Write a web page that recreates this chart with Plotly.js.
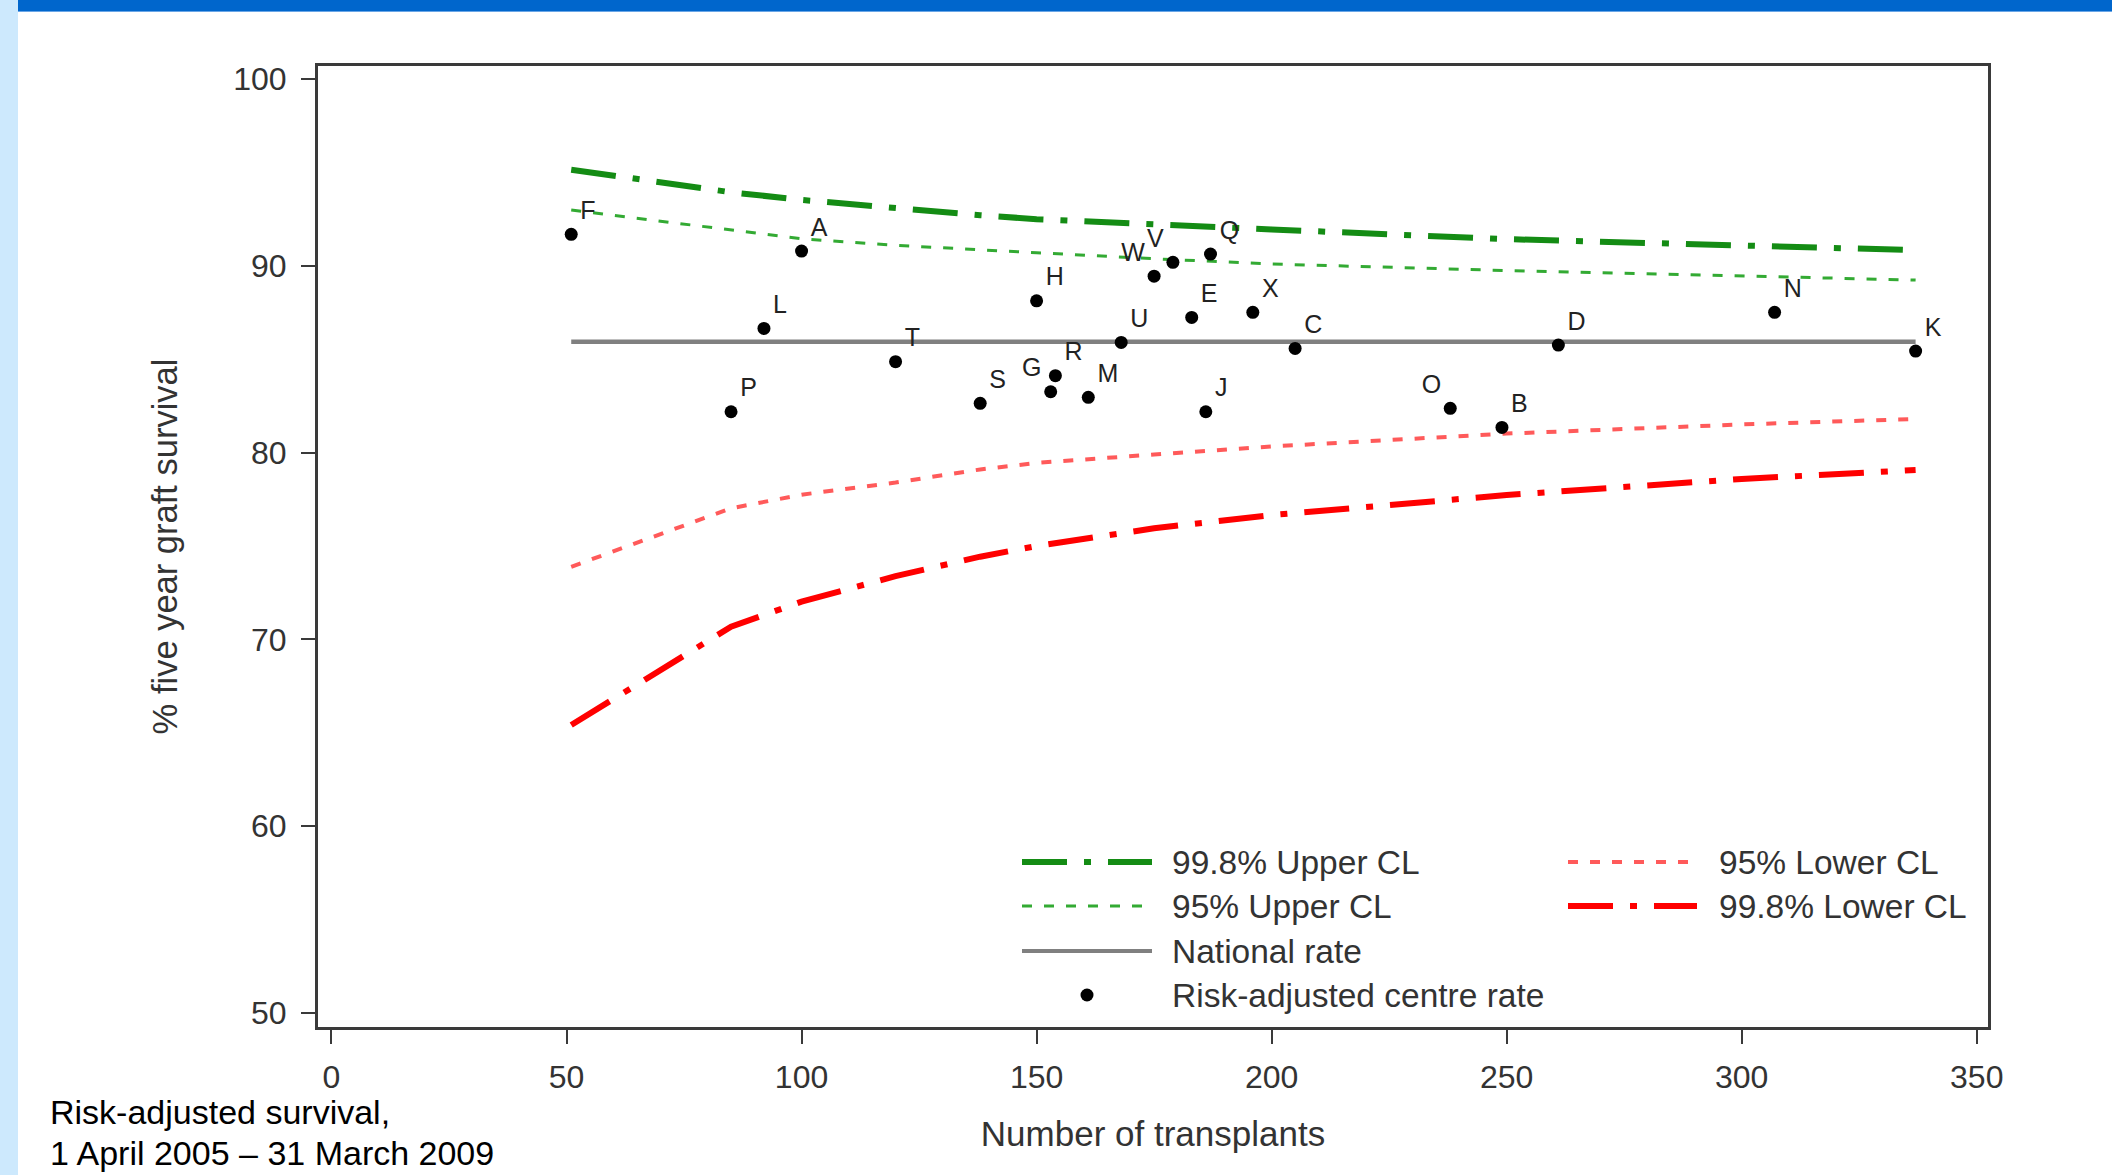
<!DOCTYPE html>
<html><head><meta charset="utf-8">
<script src="https://cdn.plot.ly/plotly-3.0.1.min.js"></script>
<style>
html,body{margin:0;padding:0;background:#fff;overflow:hidden}
#chart{width:2112px;height:1175px;position:absolute;left:0;top:0}
#bar{position:absolute;left:0;top:0;width:2112px;height:11px;background:#0066cc;border-bottom:1px solid #6aa6e6}
#strip{position:absolute;left:0;top:0;width:18px;height:1175px;background:#cde9fd}
</style></head><body>
<div id="chart"></div><div id="bar"></div><div id="strip"></div>
<script>
// Centre data
const centres    = ['F','A','L','P','T','S','H','G','R','M','U','W','V','E','Q','J','X','C','O','B','D','N','K'];
const centreN    = [51, 100, 92, 85, 120, 138, 150, 153, 154, 161, 168, 175, 179, 183, 187, 186, 196, 205, 238, 249, 261, 307, 337];
const centreRate = [91.69, 90.79, 86.65, 82.19, 84.87, 82.64, 88.13, 83.26, 84.12, 82.96, 85.90, 89.45, 90.19, 87.24, 90.63, 82.19, 87.51, 85.58, 82.37, 81.35, 85.76, 87.51, 85.44];
const leftLabelled = ['G','W','V','O'];

// Funnel limits
const funnelN   = [51, 85, 100, 120, 138, 150, 175, 200, 250, 300, 337];
const upper998  = [95.15, 93.94, 93.53, 93.08, 92.71, 92.50, 92.19, 91.95, 91.43, 91.06, 90.84];
const upper95   = [92.99, 91.92, 91.45, 91.10, 90.85, 90.70, 90.38, 90.10, 89.75, 89.44, 89.24];
const lower95   = [73.89, 77.02, 77.75, 78.40, 79.10, 79.45, 79.90, 80.33, 81.02, 81.51, 81.80];
const lower998  = [65.42, 70.68, 72.02, 73.39, 74.43, 75.00, 75.95, 76.66, 77.73, 78.59, 79.07];
const nationalRate = 85.94;

const xTicks = [0, 50, 100, 150, 200, 250, 300, 350];
const yTicks = [50, 60, 70, 80, 90, 100];

const seriesNames = ['99.8% Upper CL', '95% Upper CL', 'National rate', 'Risk-adjusted centre rate', '95% Lower CL', '99.8% Lower CL'];

const FONT = '"Liberation Sans", Arial, sans-serif';
const C998U = '#148c14', C95U = '#33aa33', CNAT = '#808080', C95L = '#ff5a5a', C998L = '#ff0000';
const DASH_DD = '45px,17px,7px,17px', DASH_SHORT = '10px,12px';

const nMin = Math.min(...centreN), nMax = Math.max(...centreN);

const traces = [
  {x: funnelN, y: upper998, mode:'lines', name: seriesNames[0], line:{color:C998U, width:6, dash:DASH_DD}},
  {x: funnelN, y: upper95, mode:'lines', name: seriesNames[1], line:{color:C95U, width:3, dash:DASH_SHORT}},
  {x: [nMin, nMax], y: [nationalRate, nationalRate], mode:'lines', name: seriesNames[2], line:{color:CNAT, width:4.5}},
  {x: funnelN, y: lower95, mode:'lines', name: seriesNames[4], line:{color:C95L, width:4, dash:DASH_SHORT}},
  {x: funnelN, y: lower998, mode:'lines', name: seriesNames[5], line:{color:C998L, width:6, dash:DASH_DD}},
  {x: centreN, y: centreRate, mode:'markers+text', name: seriesNames[3], text: centres,
   textposition: centres.map(c => leftLabelled.includes(c) ? 'top left' : 'top right'),
   textfont:{family:FONT, size:25, color:'#222'},
   marker:{color:'#000', size:13}}
];

// custom legend (pixel -> paper helpers)
const L=318, R=1988, T=66, B=1027;
const px = v => (v - L) / (R - L);
const py = v => (B - v) / (B - T);
const legendRows = [
  {col:0, row:0, name:seriesNames[0], color:C998U, width:6, dash:DASH_DD},
  {col:0, row:1, name:seriesNames[1], color:C95U, width:3, dash:DASH_SHORT},
  {col:0, row:2, name:seriesNames[2], color:CNAT, width:4, dash:'solid'},
  {col:0, row:3, name:seriesNames[3], dot:true},
  {col:1, row:0, name:seriesNames[4], color:C95L, width:4, dash:DASH_SHORT},
  {col:1, row:1, name:seriesNames[5], color:C998L, width:6, dash:DASH_DD}
];
const rowY = [862, 906, 951, 995];
const colX = [{a:1022, b:1152, t:1170}, {a:1568, b:1697, t:1717}];
const shapes = [], annotations = [];
legendRows.forEach(r => {
  const cx = colX[r.col], y = rowY[r.row];
  if (r.dot) {
    shapes.push({type:'circle', xref:'paper', yref:'paper', xsizemode:'pixel', ysizemode:'pixel',
      xanchor: px((cx.a+cx.b)/2), yanchor: py(y), x0:-6.5, x1:6.5, y0:-6.5, y1:6.5,
      fillcolor:'#000', line:{width:0}});
  } else {
    shapes.push({type:'line', xref:'paper', yref:'paper', x0:px(cx.a), x1:px(cx.b), y0:py(y), y1:py(y),
      line:{color:r.color, width:r.width, dash:r.dash}});
  }
  annotations.push({xref:'paper', yref:'paper', x:px(cx.t), y:py(y), xanchor:'left', yanchor:'middle',
    text:r.name, showarrow:false, font:{family:FONT, size:33.5, color:'#333'}});
});
annotations.push({xref:'paper', yref:'paper', x:px(48), y:py(1112), xanchor:'left', yanchor:'middle',
  text:'Risk-adjusted survival,', showarrow:false, font:{family:FONT, size:34, color:'#000'}});
annotations.push({xref:'paper', yref:'paper', x:px(48), y:py(1153), xanchor:'left', yanchor:'middle',
  text:'1 April 2005 \u2013 31 March 2009', showarrow:false, font:{family:FONT, size:34, color:'#000'}});

const axisCommon = {
  ticks:'outside', ticklen:14, tickwidth:2, tickcolor:'#3a3a3a',
  showline:true, linecolor:'#3a3a3a', linewidth:3, mirror:true,
  showgrid:false, zeroline:false, tickfont:{family:FONT, size:32, color:'#333'}
};
const layout = {
  width:2112, height:1175,
  margin:{l:L, r:2112-R, t:T, b:1175-B},
  paper_bgcolor:'#fff', plot_bgcolor:'#fff',
  showlegend:false,
  font:{family:FONT, color:'#333'},
  xaxis:Object.assign({}, axisCommon, {range:[-2.87, 352.4], tickvals:xTicks, ticklabelstandoff:6,
    title:{text:'Number of transplants', font:{family:FONT, size:35, color:'#333'}, standoff:28}}),
  yaxis:Object.assign({}, axisCommon, {range:[49.25, 100.7], tickvals:yTicks, ticklabelstandoff:8,
    title:{text:'% five year graft survival', font:{family:FONT, size:34.5, color:'#333'}, standoff:46}}),
  shapes:shapes, annotations:annotations
};
Plotly.newPlot('chart', traces, layout, {staticPlot:true, displayModeBar:false});
</script>
</body></html>
